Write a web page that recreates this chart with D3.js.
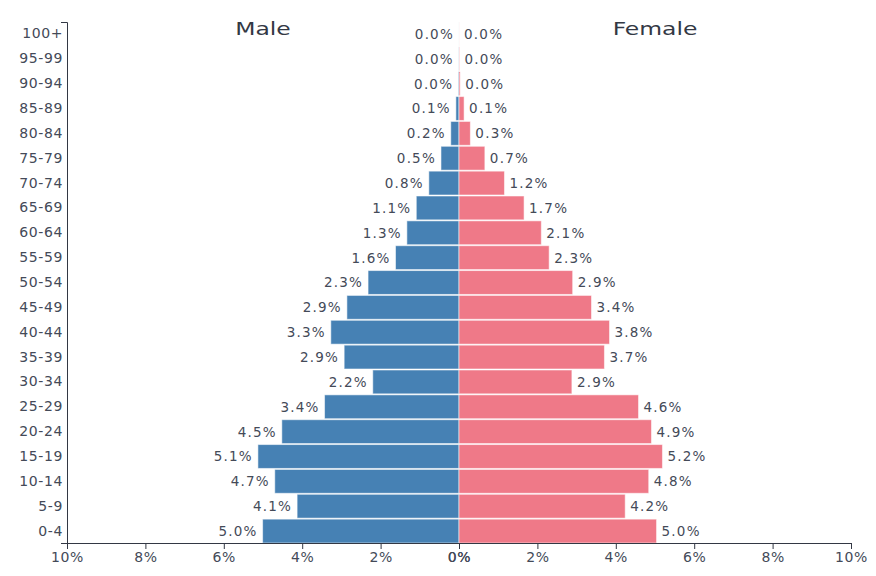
<!DOCTYPE html>
<html lang="en">
<head>
  <meta charset="UTF-8">
  <title>Population pyramid</title>
  <script src="https://d3js.org/d3.v7.min.js"></script>
</head>
<style>
  body{
    margin:0;
    background:white;
    font-family: "DejaVu Sans", Verdana, sans-serif;
  }
  .axis path, .axis line{
    stroke:#333844;
  }
  .axis text{
    fill:#444a58;
    font-family: "DejaVu Sans", Verdana, sans-serif;
    font-size:14px;
    letter-spacing:0.6px;
  }
  .val{
    fill:#444a58;
    font-size:13.5px;
    letter-spacing:1.2px;
  }
  .title{
    fill:#333844;
    font-size:17px;
  }
</style>
<body>
  <div id="chart"></div>
<script>
// age groups, bottom to top
var ages = ["0-4","5-9","10-14","15-19","20-24","25-29","30-34","35-39","40-44","45-49",
  "50-54","55-59","60-64","65-69","70-74","75-79","80-84","85-89","90-94","95-99","100+"];
// share of population in percent
var male = [5.01,4.13,4.70,5.13,4.52,3.43,2.20,2.93,3.27,2.86,
  2.32,1.62,1.33,1.09,0.77,0.46,0.21,0.08,0.02,0.005,0.001];
var female = [5.04,4.24,4.84,5.19,4.91,4.58,2.88,3.71,3.84,3.38,
  2.90,2.30,2.10,1.66,1.16,0.66,0.29,0.13,0.03,0.01,0.002];
var xTicks = [0,2,4,6,8,10];

var width = 876, height = 576;
var mLeft = 67, mRight = 851, mTop = 22, mBottom = 543;
var mid = (mLeft + mRight) / 2;

var svg = d3.select("#chart").append("svg")
  .attr("width", width)
  .attr("height", height);

// two half scales meeting at 0%
var xLeft = d3.scaleLinear().domain([0,10]).range([mid, mLeft]);
var xRight = d3.scaleLinear().domain([0,10]).range([mid, mRight]);
var y = d3.scaleBand().domain(ages).range([mBottom, mTop]).paddingInner(0.04);

var fmt = d3.format(".1f");

// male bars
svg.append("g").selectAll("rect")
  .data(male)
  .join("rect")
    .attr("x", function(d){ return xLeft(d); })
    .attr("y", function(d,i){ return y(ages[i]); })
    .attr("width", function(d){ return mid - xLeft(d); })
    .attr("height", y.bandwidth())
    .attr("fill", "#4681b4")
    .attr("stroke", "#ffffff")
    .attr("stroke-opacity", 0.55)
    .attr("stroke-width", 1);

// female bars
svg.append("g").selectAll("rect")
  .data(female)
  .join("rect")
    .attr("x", mid)
    .attr("y", function(d,i){ return y(ages[i]); })
    .attr("width", function(d){ return xRight(d) - mid; })
    .attr("height", y.bandwidth())
    .attr("fill", "#ef7988")
    .attr("stroke", "#ffffff")
    .attr("stroke-opacity", 0.55)
    .attr("stroke-width", 1);

// value labels
svg.append("g").selectAll("text")
  .data(male)
  .join("text")
    .attr("class", "val")
    .attr("x", function(d){ return xLeft(d) - 5; })
    .attr("y", function(d,i){ return y(ages[i]) + y.bandwidth()/2; })
    .attr("dy", "0.36em")
    .attr("text-anchor", "end")
    .text(function(d){ return fmt(d) + "%"; });

svg.append("g").selectAll("text")
  .data(female)
  .join("text")
    .attr("class", "val")
    .attr("x", function(d){ return xRight(d) + 5; })
    .attr("y", function(d,i){ return y(ages[i]) + y.bandwidth()/2; })
    .attr("dy", "0.36em")
    .attr("text-anchor", "start")
    .text(function(d){ return fmt(d) + "%"; });

// axes
svg.append("g")
  .attr("class", "axis")
  .attr("transform", "translate(" + mLeft + ",0)")
  .call(d3.axisLeft(y).tickSizeInner(0).tickSizeOuter(6).tickPadding(4));

svg.append("g")
  .attr("class", "axis")
  .attr("transform", "translate(0," + mBottom + ")")
  .call(d3.axisBottom(xLeft).tickValues(xTicks).tickFormat(function(d){ return d + "%"; }));

svg.append("g")
  .attr("class", "axis")
  .attr("transform", "translate(0," + mBottom + ")")
  .call(d3.axisBottom(xRight).tickValues(xTicks).tickFormat(function(d){ return d + "%"; }));

// titles, stretched wide like the reference
svg.append("text")
  .attr("class", "title")
  .attr("text-anchor", "middle")
  .attr("transform", "translate(" + (mLeft + mid)/2 + ",35) scale(1.38,1)")
  .text("Male");

svg.append("text")
  .attr("class", "title")
  .attr("text-anchor", "middle")
  .attr("transform", "translate(" + (mid + mRight)/2 + ",35) scale(1.38,1)")
  .text("Female");
</script>
</body>
</html>
